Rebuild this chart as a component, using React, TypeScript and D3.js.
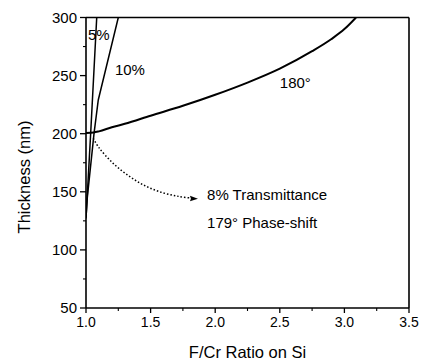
import React from "react";
import * as d3 from "d3";

const W = 423;
const H = 362;
const margin = { left: 86, right: 14, top: 17.5, bottom: 54 };

const xTicks = [1.0, 1.5, 2.0, 2.5, 3.0, 3.5];
const xMinor = [1.25, 1.75, 2.25, 2.75, 3.25];
const yTicks = [50, 100, 150, 200, 250, 300];
const yMinor = [75, 125, 175, 225, 275];

// 5% transmittance contour
const t5X = [1.0, 1.036, 1.083];
const t5Y = [127, 200, 300];
// 10% transmittance contour
const t10X = [1.0, 1.01, 1.062, 1.095, 1.25];
const t10Y = [128, 145, 200, 229, 300];
// 180 degree phase contour
const p180X = [1.0, 1.06, 1.1, 1.2, 1.3, 1.5, 1.75, 2.0, 2.25, 2.5, 2.75, 2.9, 3.0, 3.09];
const p180Y = [200.5, 201, 202, 205.5, 208.5, 215.5, 224, 233.5, 244, 256, 271, 281.5, 290, 300];
// dotted arrow to annotation
const arrowX = [1.056, 1.1, 1.21, 1.34, 1.47, 1.6, 1.72, 1.82];
const arrowY = [196, 188, 174.5, 163, 154.5, 149, 146, 144.5];

const labels = [
  { text: "5%", x: 1.015, y: 281 },
  { text: "10%", x: 1.224, y: 250.5 },
  { text: "180°", x: 2.5, y: 239.5 },
  { text: "8% Transmittance", x: 1.937, y: 143 },
  { text: "179° Phase-shift", x: 1.937, y: 119 },
];

const FONT = "'Liberation Sans', Arial, Helvetica, sans-serif";

export default function App() {
  const x = d3.scaleLinear().domain([1.0, 3.5]).range([margin.left, W - margin.right]);
  const y = d3.scaleLinear().domain([50, 300]).range([H - margin.bottom, margin.top]);
  const x0 = x(1.0), x1 = x(3.5), y0 = y(50), y1 = y(300);

  const mk = (xs: number[], ys: number[]) => xs.map((v, i) => [v, ys[i]] as [number, number]);
  const straight = d3.line<[number, number]>().x(d => x(d[0])).y(d => y(d[1]));
  const smooth = d3.line<[number, number]>().x(d => x(d[0])).y(d => y(d[1])).curve(d3.curveMonotoneX);
  const cr = d3.line<[number, number]>().x(d => x(d[0])).y(d => y(d[1])).curve(d3.curveCatmullRom.alpha(0.5));

  const aEnd: [number, number] = [x(arrowX[arrowX.length - 1]), y(arrowY[arrowY.length - 1])];

  return (
    <svg width={W} height={H} style={{ position: "absolute", left: 0, top: 0, background: "#fff" }}>
      <defs>
        <clipPath id="plotclip">
          <rect x={x0} y={y1} width={x1 - x0} height={y0 - y1} />
        </clipPath>
      </defs>
      {/* frame */}
      <line x1={x0} x2={x1} y1={y0} y2={y0} stroke="#000" strokeWidth={1.6} />
      <line x1={x0} x2={x0} y1={y0} y2={y1} stroke="#000" strokeWidth={1.6} />
      <line x1={x0} x2={x1} y1={y1} y2={y1} stroke="#000" strokeWidth={1.4} />
      <line x1={x1} x2={x1} y1={y0} y2={y1} stroke="#000" strokeWidth={1.6} />
      {/* x ticks */}
      {xTicks.map(t => (
        <g key={"xt" + t}>
          <line x1={x(t)} x2={x(t)} y1={y0} y2={y0 + 5} stroke="#000" strokeWidth={1.3} />
          <text x={x(t)} y={y0 + 19} textAnchor="middle" fontFamily={FONT} fontSize={14} fill="#000">{t.toFixed(1)}</text>
        </g>
      ))}
      {xMinor.map(t => (
        <line key={"xm" + t} x1={x(t)} x2={x(t)} y1={y0} y2={y0 + 3} stroke="#000" strokeWidth={1.1} />
      ))}
      {/* y ticks */}
      {yTicks.map(t => (
        <g key={"yt" + t}>
          <line x1={x0 - 6} x2={x0} y1={y(t)} y2={y(t)} stroke="#000" strokeWidth={1.3} />
          <text x={x0 - 9} y={y(t) + 5} textAnchor="end" fontFamily={FONT} fontSize={15} fill="#000">{t}</text>
        </g>
      ))}
      {yMinor.map(t => (
        <line key={"ym" + t} x1={x0 - 3} x2={x0} y1={y(t)} y2={y(t)} stroke="#000" strokeWidth={1.1} />
      ))}
      {/* curves */}
      <g clipPath="url(#plotclip)" fill="none" stroke="#000">
        <path d={straight(mk(t5X, t5Y)) || ""} strokeWidth={1.5} />
        <path d={straight(mk(t10X, t10Y)) || ""} strokeWidth={1.5} />
        <path d={smooth(mk(p180X, p180Y)) || ""} strokeWidth={2} />
        <path d={cr(mk(arrowX, arrowY)) || ""} strokeWidth={1.5} strokeDasharray="1.5,2" />
      </g>
      <path
        d={`M${aEnd[0] + 6},${aEnd[1] + 0.5} L${aEnd[0] - 2},${aEnd[1] - 2.5} L${aEnd[0] - 1},${aEnd[1] + 0.5} L${aEnd[0] - 2},${aEnd[1] + 3} Z`}
        fill="#000"
      />
      {/* labels */}
      {labels.map(l => (
        <text key={l.text} x={x(l.x)} y={y(l.y)} fontFamily={FONT} fontSize={15} fill="#000">{l.text}</text>
      ))}
      {/* axis titles */}
      <text x={(x0 + x1) / 2} y={358} textAnchor="middle" fontFamily={FONT} fontSize={16.5} fill="#000">F/Cr Ratio on Si</text>
      <text transform={`translate(30,177) rotate(-90)`} textAnchor="middle" fontFamily={FONT} fontSize={16.5} fill="#000">Thickness (nm)</text>
    </svg>
  );
}
